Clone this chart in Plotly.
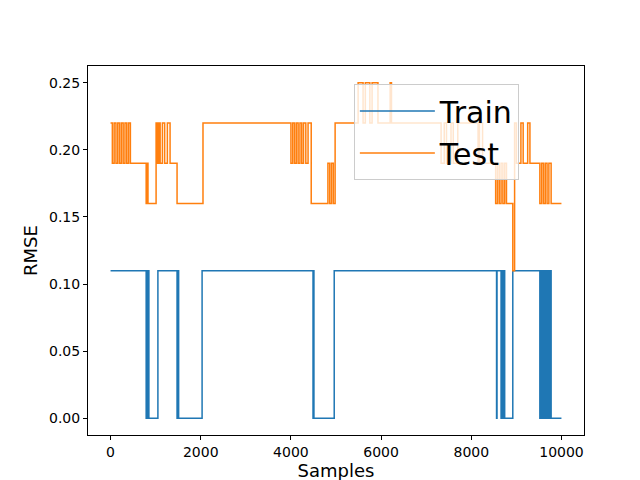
import plotly.graph_objects as go

# change points (step "hv"): x sample index, RMSE value
train_x = [0, 790, 800, 810, 820, 830, 840, 850, 860, 1050, 1475, 1480, 1490, 1500, 1510, 2030,
           4490, 4500, 4510, 4960, 8560, 8570, 8660, 8680, 8700, 8720, 8740, 8760, 8920,
           9520, 9540, 9560, 9580, 9600, 9620, 9640, 9660, 9680, 9700, 9720, 9740, 9770, 9999]
train_y = [0.11, 0.0, 0.11, 0.0, 0.11, 0.0, 0.11, 0.0, 0.0, 0.11, 0.0, 0.11, 0.0, 0.11, 0.0, 0.11,
           0.0, 0.11, 0.0, 0.11, 0.0, 0.11, 0.0, 0.11, 0.0, 0.11, 0.0, 0.0, 0.11,
           0.0, 0.11, 0.0, 0.11, 0.0, 0.11, 0.0, 0.11, 0.0, 0.11, 0.0, 0.11, 0.0, 0.0]

test_x = [0, 40, 80, 120, 160, 200, 240, 280, 320, 360, 400, 440, 460,
          790, 800, 810, 820, 830, 840, 1010, 1040, 1070, 1100, 1150, 1200, 1260, 1320,
          1475, 2050, 4000, 4040, 4080, 4120, 4160, 4200, 4240, 4280, 4330, 4380, 4450,
          4820, 4860, 4900, 4940, 4980, 5490, 5600, 5650, 5750, 5800, 5930, 6200, 6230,
          7330, 7400, 7450, 7550, 7600, 7700, 8150, 8180, 8250, 8540, 8580, 8620, 8660,
          8700, 8740, 8780, 8920, 8960, 9000, 9100, 9150, 9250, 9300, 9370,
          9520, 9560, 9600, 9640, 9680, 9720, 9770, 9999]
test_y = [0.22, 0.19, 0.22, 0.19, 0.22, 0.19, 0.22, 0.19, 0.22, 0.19, 0.22, 0.19, 0.19,
          0.16, 0.19, 0.16, 0.19, 0.16, 0.16, 0.22, 0.19, 0.22, 0.19, 0.22, 0.19, 0.22, 0.19,
          0.16, 0.22, 0.19, 0.22, 0.19, 0.22, 0.19, 0.22, 0.19, 0.22, 0.19, 0.22, 0.16,
          0.19, 0.16, 0.19, 0.16, 0.22, 0.25, 0.22, 0.25, 0.22, 0.25, 0.22, 0.25, 0.22,
          0.19, 0.22, 0.19, 0.22, 0.19, 0.22, 0.19, 0.22, 0.19, 0.16, 0.19, 0.16, 0.19,
          0.16, 0.19, 0.16, 0.11, 0.22, 0.19, 0.22, 0.19, 0.22, 0.19, 0.19,
          0.16, 0.19, 0.16, 0.19, 0.16, 0.19, 0.16, 0.16]

x_ticks = [0, 2000, 4000, 6000, 8000, 10000]
y_ticks = [0, 0.05, 0.1, 0.15, 0.2, 0.25]

fig = go.Figure()
fig.add_trace(go.Scatter(x=train_x, y=train_y, mode="lines", line_shape="hv", name="Train",
                         line=dict(color="#1f77b4", width=1.5)))
fig.add_trace(go.Scatter(x=test_x, y=test_y, mode="lines", line_shape="hv", name="Test",
                         line=dict(color="#ff7f0e", width=1.5)))

axis_common = dict(showgrid=False, zeroline=False, showline=True, linecolor="black", mirror=True,
                   ticks="outside", ticklen=4, tickcolor="black", automargin=False,
                   tickfont=dict(size=14, color="black"))
fig.update_xaxes(range=[-500, 10499], tickvals=x_ticks, ticktext=[str(v) for v in x_ticks],
                 title=dict(text="Samples", font=dict(size=18, color="black"), standoff=4), **axis_common)
fig.update_yaxes(range=[-0.0125, 0.2625], tickvals=y_ticks, ticktext=[f"{v:.2f}" for v in y_ticks],
                 title=dict(text="RMSE", font=dict(size=18, color="black"), standoff=6), **axis_common)
fig.update_layout(
    width=640, height=480, plot_bgcolor="white", paper_bgcolor="white",
    margin=dict(l=80, r=64, t=58, b=53),
    font=dict(family="DejaVu Sans"),
    legend=dict(x=0.536, y=0.951, xanchor="left", yanchor="top",
                bgcolor="rgba(255,255,255,0.8)", bordercolor="#cccccc", borderwidth=1,
                font=dict(size=30, color="black"), itemwidth=75, tracegroupgap=10),
)
fig.write_html("out.html")
